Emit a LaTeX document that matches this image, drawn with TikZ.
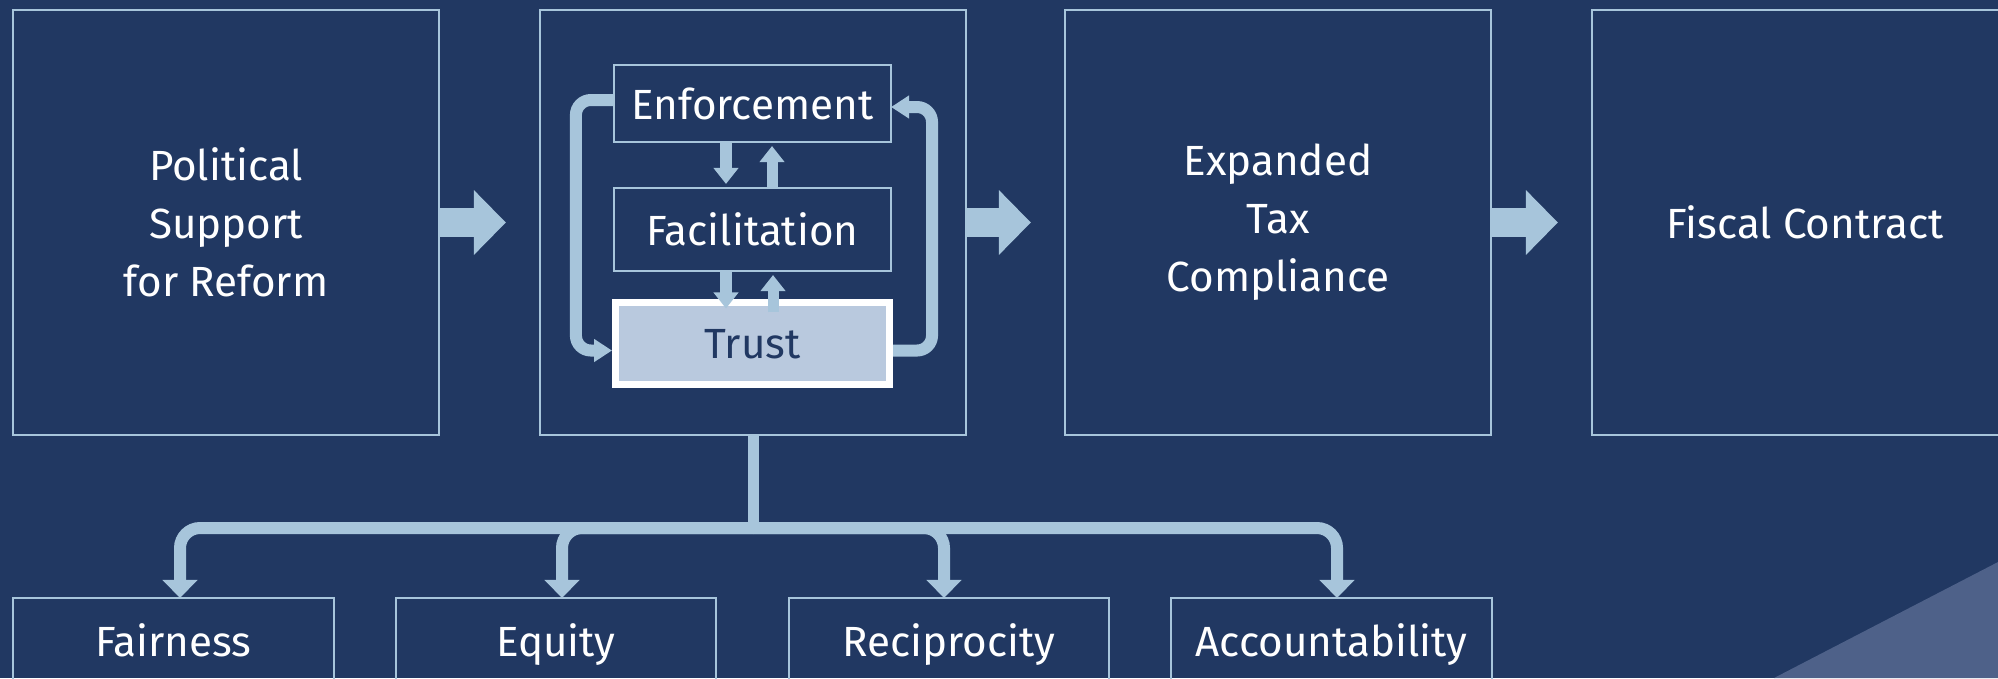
\documentclass[tikz,border=0pt]{standalone}
\usepackage{fontspec}
\setmainfont{Fira Sans}
\usetikzlibrary{arrows.meta}
\definecolor{navy}{HTML}{213862}
\definecolor{edge}{HTML}{A7C5DB}
\definecolor{trustfill}{HTML}{B9C9DE}
\definecolor{corner}{HTML}{4E6189}
\begin{document}
\begin{tikzpicture}[x=0.01cm, y=-0.01cm,
  every node/.style={text=white, font=\fontsize{12}{16.5}\selectfont, align=center, outer sep=0pt},
  bigbox/.style={draw=edge, line width=0.02cm, minimum width=4.26cm, minimum height=4.25cm},
  innerbox/.style={draw=edge, line width=0.02cm, minimum width=2.77cm},
  leafbox/.style={draw=edge, line width=0.02cm, minimum width=3.2cm, minimum height=0.96cm, text height=1.6ex, text depth=0.5ex},
  fat/.style={draw=edge, line width=0.29cm, -{Triangle[length=0.32cm, width=0.63cm]}, shorten >=0.34cm},
  small/.style={draw=edge, line width=0.11cm, -{Triangle[length=0.16cm, width=0.24cm]}},
  loopback/.style={draw=edge, line width=0.12cm, rounded corners=0.15cm, -{Triangle[length=0.18cm, width=0.22cm]}},
  branch/.style={draw=edge, line width=0.12cm, rounded corners=0.2cm, -{Triangle[length=0.18cm, width=0.34cm]}}]
\fill[navy] (0,0) rectangle (1998,678);
\useasboundingbox (0,0) rectangle (1998,678);
\fill[corner] (1774,678) -- (1998,562) -- (1998,678) -- cycle;

\node[bigbox] (politics) at (226,222.5) {Political\\Support\\for Reform};
\node[bigbox] (core) at (753,222.5) {};
\node[bigbox] (compliance) at (1278,222.5) {Expanded\\Tax\\Compliance};
\node[bigbox] (contract) at (1805,222.5) {Fiscal Contract};

\node[innerbox, minimum height=0.77cm] (enf) at (752.5,103.5) {Enforcement};
\node[innerbox, minimum height=0.83cm] (fac) at (752.5,229.5) {Facilitation};

\draw[small] ([xshift=-0.265cm]enf.south) -- ([xshift=-0.265cm,yshift=0.04cm]fac.north);
\draw[small] ([xshift=0.195cm]fac.north) -- ([xshift=0.195cm,yshift=-0.04cm]enf.south);
\draw[loopback] ([yshift=0.035cm]enf.west) -- ++(-0.38cm,0) |- ([yshift=-0.07cm]612,343.5);
\draw[loopback] ([yshift=-0.07cm]893,343.5) -- ++(0.39cm,0) |- ([yshift=-0.035cm]enf.east);

\node[draw=white, fill=trustfill, text=navy, line width=0.07cm, minimum width=2.74cm, minimum height=0.82cm, text height=1.9ex, text depth=0.3ex] (trust) at (752.5,343.5) {Trust};

\draw[small] ([xshift=-0.265cm]fac.south) -- ([xshift=-0.265cm,yshift=-0.06cm]trust.north);
\draw[small] ([xshift=0.205cm,yshift=-0.1cm]trust.north) -- ([xshift=0.205cm,yshift=-0.04cm]fac.south);

\draw[fat] (politics.east) -- (core.west);
\draw[fat] (core.east) -- (compliance.west);
\draw[fat] (compliance.east) -- (contract.west);

\node[leafbox] (fair) at (173.5,646) {Fairness};
\node[leafbox] (equity) at (556,646) {Equity};
\node[leafbox] (recip) at (949,646) {Reciprocity};
\node[leafbox] (account) at (1331.5,646) {Accountability};

\coordinate (hub) at (753,528);
\draw[edge, line width=0.11cm] (core.south) -- (hub);
\draw[branch] (hub) -| ([xshift=0.065cm]fair.north);
\draw[branch] (hub) -| ([xshift=0.06cm]equity.north);
\draw[branch] (hub) -| ([xshift=-0.05cm]recip.north);
\draw[branch] (hub) -| ([xshift=0.055cm]account.north);
\end{tikzpicture}
\end{document}
